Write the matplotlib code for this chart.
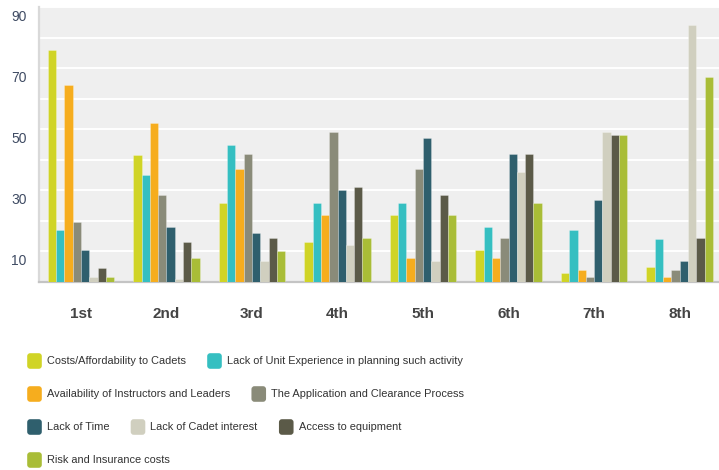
import numpy as np
import matplotlib.pyplot as plt
from matplotlib import transforms, font_manager
from matplotlib.patches import FancyBboxPatch

plt.rcParams['font.family'] = ['Liberation Sans', 'DejaVu Sans']

rankings = ["1st", "2nd", "3rd", "4th", "5th", "6th", "7th", "8th"]

costs = [76, 41.5, 26, 13, 22, 10.5, 3, 5]
unit_experience = [17, 35, 45, 26, 26, 18, 17, 14]
instructors = [64.5, 52, 37, 22, 8, 8, 4, 1.5]
application = [19.5, 28.5, 42, 49, 37, 14.5, 1.5, 4]
lack_time = [10.5, 18, 16, 30, 47, 42, 27, 7]
cadet_interest = [1.5, 1, 7, 12, 7, 36, 49, 84]
equipment = [4.5, 13, 14.5, 31, 28.5, 42, 48, 14.5]
risk_insurance = [1.5, 8, 10, 14.5, 22, 26, 48, 67]

series = [
    ("Costs/Affordability to Cadets", costs, "#d0d426"),
    ("Lack of Unit Experience in planning such activity", unit_experience, "#35bfc1"),
    ("Availability of Instructors and Leaders", instructors, "#f6ad1e"),
    ("The Application and Clearance Process", application, "#8a8b79"),
    ("Lack of Time", lack_time, "#2f5f6d"),
    ("Lack of Cadet interest", cadet_interest, "#d0cfbf"),
    ("Access to equipment", equipment, "#5b5a48"),
    ("Risk and Insurance costs", risk_insurance, "#a9bd37"),
]

# narrow face for the legend if the system has one
names = {f.name for f in font_manager.fontManager.ttflist}
if "Liberation Sans Narrow" in names:
    leg_font, leg_size = ["Liberation Sans Narrow", "DejaVu Sans"], 9.8
else:
    leg_font, leg_size = ["Liberation Sans", "DejaVu Sans"], 7.9

W, H = 719, 470
fig = plt.figure(figsize=(W / 100, H / 100), dpi=100)
ax = fig.add_axes([39 / W, (H - 282) / H, 680 / W, 275 / H])
ax.set_facecolor("#efefef")

x = np.arange(len(rankings))
bw = 0.097
for i, (name, vals, col) in enumerate(series):
    ax.bar(x + (i - 3.5) * bw, vals, width=bw, color=col,
           edgecolor=(1, 1, 1, 0.35), linewidth=0.5, zorder=3)

ax.set_xlim(-0.49, 7.46)
ax.set_ylim(0, 90)
ax.set_yticks(range(10, 91, 10))
ax.set_yticklabels([str(v) if v % 20 == 10 else "" for v in range(10, 91, 10)])
ax.grid(axis="y", color="white", linewidth=1.4, zorder=1)
ax.tick_params(axis="y", length=0, pad=9, labelsize=10, labelcolor="#3f4b63")
ax.tick_params(axis="x", length=0, pad=18, labelsize=11, labelcolor="#444444")
ax.set_xticks(x)
ax.set_xticklabels(rankings, fontweight="bold")

# y labels sit a little under their gridlines
shift = transforms.ScaledTranslation(0, -6 / 72, fig.dpi_scale_trans)
for lab in ax.get_yticklabels():
    lab.set_transform(lab.get_transform() + shift)

for side in ("top", "right"):
    ax.spines[side].set_visible(False)
ax.spines["left"].set_color("#d9d9d9")
ax.spines["left"].set_linewidth(1.6)
ax.spines["bottom"].set_color("#c4c4c4")
ax.spines["bottom"].set_linewidth(1.6)

# legend laid out as flowing rows below the plot
renderer = fig.canvas.get_renderer()
px = transforms.IdentityTransform()
left, max_right = 27, 475
row_y = H - 361
cx = left
for name, vals, col in series:
    t = fig.text(0, 0, name, fontsize=leg_size, family=leg_font, color="#333333",
                 va="center", ha="left", transform=px)
    tw = t.get_window_extent(renderer).width
    if cx + 20 + tw > max_right and cx > left:
        cx = left
        row_y -= 33
    fig.add_artist(FancyBboxPatch((cx + 1, row_y - 7), 13, 14,
                                  boxstyle="round,pad=0.8,rounding_size=3",
                                  facecolor=col, edgecolor="none", transform=px))
    t.set_position((cx + 20, row_y))
    cx += 20 + tw + 21

fig.savefig("out.png", dpi=100)
